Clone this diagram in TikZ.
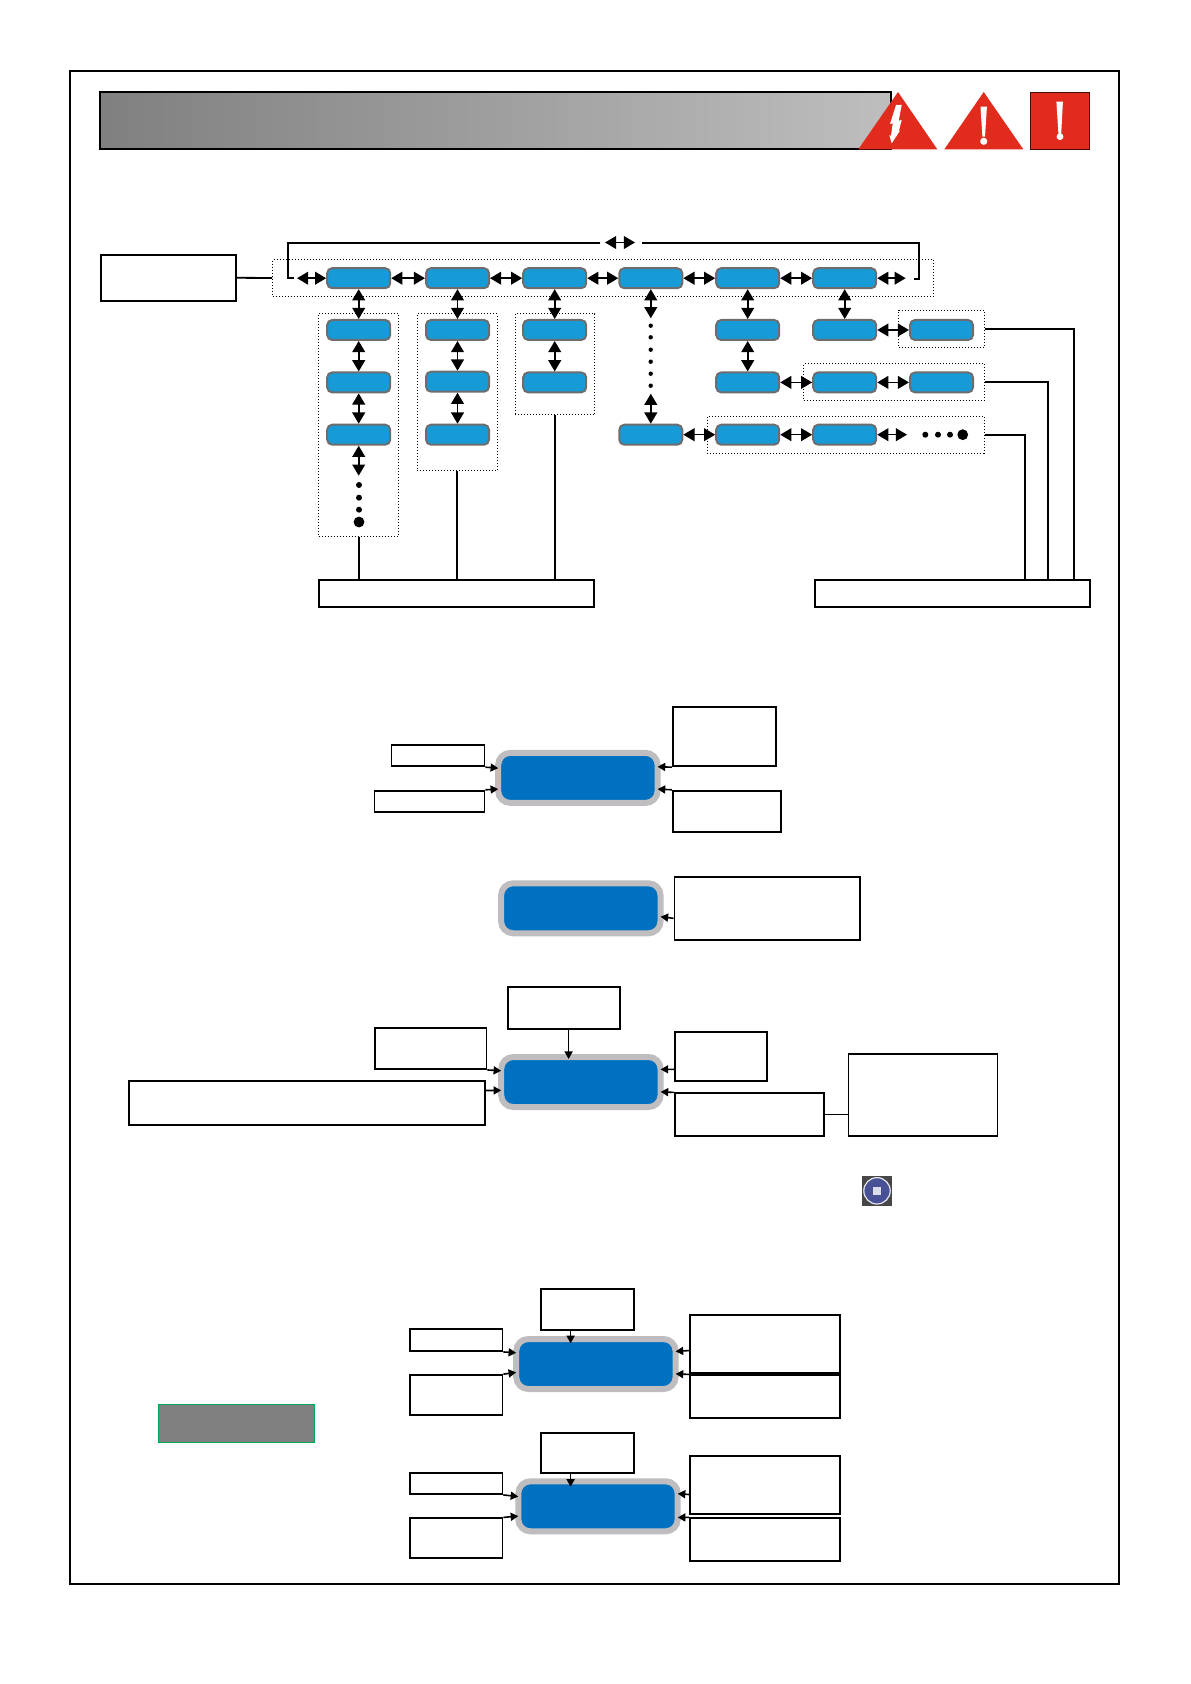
\documentclass[tikz,border=0pt]{standalone}
\usepackage{xcolor}
\definecolor{mlblue}{RGB}{23,155,215}
\definecolor{mldeep}{RGB}{0,112,192}
\definecolor{mlrim}{RGB}{191,189,191}
\definecolor{mlfade}{RGB}{190,190,190}
\definecolor{mlslate}{RGB}{109,109,111}
\definecolor{mlred}{RGB}{225,43,28}
\definecolor{mlgreen}{RGB}{0,166,81}
\definecolor{mlnavy}{RGB}{72,80,150}
\usetikzlibrary{arrows.meta,positioning,calc}
\begin{document}
\begin{tikzpicture}[
    x=0.5pt, y=-0.5pt,
    sz/.style 2 args={minimum width=#1*0.5pt, minimum height=#2*0.5pt},
    lbl/.style={rectangle, draw=black, line width=0.9pt, inner sep=0pt},
    cell/.style={rectangle, rounded corners=2.5pt, draw=mlslate, line width=1pt, fill=mlblue,
                 inner sep=0pt, minimum width=31.5pt, minimum height=10pt},
    scr/.style={rectangle, rounded corners=6pt, draw=mlrim, line width=3pt, fill=mldeep,
                inner sep=0pt, outer sep=0pt, minimum width=79.7pt, minimum height=25pt},
    grp/.style={rectangle, draw=black, densely dotted, line width=0.5pt, inner sep=0pt},
    dbl/.style={{Triangle[length=5.6pt,width=6.4pt]}-{Triangle[length=5.6pt,width=6.4pt]}, line width=0.8pt},
    sarr/.style={-{Triangle[length=3.8pt,width=4pt]}, line width=0.8pt},
    wire/.style={line width=0.9pt},
    dt/.style={circle, fill=black, inner sep=0pt, minimum size=3pt},
    bigdt/.style={circle, fill=black, inner sep=0pt, minimum size=5.4pt}
  ]
    \useasboundingbox (0,0) rectangle (1190,1684);
    \draw[line width=1pt] (70.3,71) rectangle (1118.7,1584.3);

    % Title bar and warning signs
    \node[rectangle, draw=black, line width=0.9pt, left color=gray, right color=mlfade,
          inner sep=0pt, sz={791}{56.7}] (title) at (495.8,120.3) {};
    \fill[mlred] (898,92) -- (937.3,149.3) -- (858.3,149.3) -- cycle;
    \fill[white] (896,105) -- (901.7,105) -- (898.7,120.7) -- (901.7,120) -- (898.7,131.7) -- (900,130.7)
      -- (891.7,143.3) -- (889.3,135) -- (891,136) -- (892.7,123.3) -- (890,124) -- cycle;
    \fill[mlred] (983.7,92) -- (1023.3,149.3) -- (944.3,149.3) -- cycle;
    \fill[white] (980.5,106.7) -- (986.9,106.7) -- (985,136.7) -- (982.4,136.7) -- cycle;
    \fill[white] (983.7,141.3) circle (1.8pt);
    \filldraw[fill=mlred, draw=black!70!mlred, line width=0.5pt] (1030.3,92.3) rectangle (1089.7,149.3);
    \fill[white] (1056.4,101.7) -- (1062.9,101.7) -- (1061.2,134) -- (1058.4,134) -- cycle;
    \fill[white] (1060,136.7) circle (1.7pt);

    % Menu tree, top row
    \node[lbl, sz={134.4}{46.3}] (src) at (168.5,277.8) {};
    \node[grp, sz={660.6}{36.6}] (gm) at (603,278) {};
    \node[cell] (m1) at (358.7,278.2) {};
    \node[cell] (m2) at (457.5,278.2) {};
    \node[cell] (m3) at (554.7,278.2) {};
    \node[cell] (m4) at (650.8,278.2) {};
    \node[cell] (m5) at (747.7,278.2) {};
    \node[cell] (m6) at (844.7,278.2) {};
    \draw[wire] (src.east) -- (gm.west);
    \draw[dbl] (m1) -- (m2);
    \draw[dbl] (m2) -- (m3);
    \draw[dbl] (m3) -- (m4);
    \draw[dbl] (m4) -- (m5);
    \draw[dbl] (m5) -- (m6);

    % Wrap-around bracket
    \coordinate (hl) at (297,278.2);
    \coordinate (hr) at (905.7,278.2);
    \coordinate (tl) at (600,243.3);
    \coordinate (tr) at (641.7,243.3);
    \coordinate (ta) at (605,242.5);
    \coordinate (tb) at (635,242.5);
    \draw[dbl] (m1.west) -- (hl);
    \draw[dbl] (m6.east) -- (hr);
    \draw[dbl] (ta) -- (tb);
    \draw[wire] (tl) -- (288.3,243.3) -- (288.3,278) -- (294,278);
    \draw[wire] (tr) -- (919.3,243.3) -- (919.3,279) -- (913.7,279);

    % Columns one to three
    \node[grp, sz={80}{222.3}] (g1) at (358.7,424.9) {};
    \node[grp, sz={80}{157}] (g2) at (457.3,392.2) {};
    \node[grp, sz={79.6}{101.3}] (g3) at (555,364.3) {};
    \node[cell] (a1) at (358.7,330) {};
    \node[cell] (a2) at (358.7,382.4) {};
    \node[cell] (a3) at (358.7,434.7) {};
    \node[cell] (b1) at (457.5,330) {};
    \node[cell] (b2) at (457.5,381.7) {};
    \node[cell] (b3) at (457.5,434.7) {};
    \node[cell] (c1) at (554.7,330) {};
    \node[cell] (c2) at (554.7,382.4) {};
    \draw[dbl] (m1) -- (a1);
    \draw[dbl] (a1) -- (a2);
    \draw[dbl] (a2) -- (a3);
    \draw[dbl] (m2) -- (b1);
    \draw[dbl] (b1) -- (b2);
    \draw[dbl] (b2) -- (b3);
    \draw[dbl] (m3) -- (c1);
    \draw[dbl] (c1) -- (c2);
    \coordinate (qa) at (358.7,475.7);
    \draw[dbl] (a3.south) -- (qa);
    \node[dt] (da) at (359,485) {};
    \node[dt] (db) at (359,497.7) {};
    \node[dt] (dc) at (359,509.7) {};
    \node[bigdt] (dd) at (359,522) {};

    % Column four
    \node[cell] (d1) at (650.8,434.7) {};
    \coordinate (qb) at (650.8,318.3);
    \coordinate (qc) at (650.8,393.7);
    \draw[dbl] (m4.south) -- (qb);
    \draw[dbl] (qc) -- (d1.north);
    \foreach \yy/\nn in {325.7/1,337.3/2,349.7/3,361.7/4,373.7/5,385.7/6}
      \node[circle, fill=black, inner sep=0pt, minimum size=2.2pt] (dv\nn) at (650.7,\yy) {};

    % Right branches
    \node[grp, sz={85.6}{36.7}] (gr1) at (941.5,328.7) {};
    \node[grp, sz={180.6}{36.6}] (gr2) at (894,382) {};
    \node[grp, sz={277}{36.7}] (gr3) at (845.8,434.7) {};
    \node[cell] (e1) at (747.7,330) {};
    \node[cell] (e2) at (747.7,382.4) {};
    \node[cell] (f1) at (844.7,330) {};
    \node[cell] (f2) at (844.7,382.4) {};
    \node[cell] (f3) at (941.5,330) {};
    \node[cell] (f4) at (941.5,382.4) {};
    \node[cell] (g5) at (747.7,434.7) {};
    \node[cell] (g6) at (844.7,434.7) {};
    \draw[dbl] (m5) -- (e1);
    \draw[dbl] (e1) -- (e2);
    \draw[dbl] (m6) -- (f1);
    \draw[dbl] (f1) -- (f3);
    \draw[dbl] (e2) -- (f2);
    \draw[dbl] (f2) -- (f4);
    \draw[dbl] (d1) -- (g5);
    \draw[dbl] (g5) -- (g6);
    \coordinate (hg) at (907,434.7);
    \draw[dbl] (g6.east) -- (hg);
    \node[dt] (de) at (925.3,434.7) {};
    \node[dt] (df) at (938,434.7) {};
    \node[dt] (dg) at (950,434.7) {};
    \node[bigdt] (dh) at (962.7,434.7) {};

    % Collecting boxes below the tree
    \node[lbl, sz={275.6}{26.7}] (bl) at (456.5,593.7) {};
    \node[lbl, sz={275.6}{26.7}] (br) at (952.5,593.7) {};
    \draw[wire] (g1.south) -- (g1.south |- bl.north);
    \draw[wire] (g2.south) -- (g2.south |- bl.north);
    \draw[wire] (g3.south) -- (g3.south |- bl.north);
    \coordinate (ra) at (1074,580.3);
    \coordinate (rb) at (1048.3,580.3);
    \coordinate (rc) at (1025,580.3);
    \draw[wire] (gr1.east) -| (ra);
    \draw[wire] (gr2.east) -| (rb);
    \draw[wire] (gr3.east) -| (rc);

    % Screen one
    \node[scr] (s1) at (577.9,777.9) {};
    \node[lbl, sz={93}{21.6}] (s1a) at (438,755.5) {};
    \node[lbl, sz={110}{21.6}] (s1b) at (429.5,801.5) {};
    \node[lbl, sz={103.3}{59}] (s1c) at (724.4,736.8) {};
    \node[lbl, sz={108.3}{41.6}] (s1d) at (727,811.5) {};
    \draw[sarr] (s1a.south east) -- (s1.173);
    \draw[sarr] (s1b.north east) -- (s1.188);
    \draw[sarr] (s1c.south west) -- (s1.8);
    \draw[sarr] (s1d.north west) -- (s1.352);

    % Screen two
    \node[scr] (s2) at (580.8,908.3) {};
    \node[lbl, sz={185.7}{63}] (s2a) at (767.4,908.5) {};
    \draw[sarr] (s2a.186) -- (s2.354);

    % Screen three
    \node[scr] (s3) at (580.9,1082) {};
    \node[lbl, sz={112.2}{41.4}] (s3t) at (564.2,1008) {};
    \node[lbl, sz={111.6}{40.7}] (s3a) at (430.6,1048.7) {};
    \node[lbl, sz={355.8}{44.6}] (s3b) at (306.7,1103) {};
    \node[lbl, sz={92.2}{48.7}] (s3c) at (720.8,1056.7) {};
    \node[lbl, sz={149.7}{42.4}] (s3d) at (749.5,1114.5) {};
    \node[lbl, sz={149.1}{82.3}] (s3e) at (923,1094.9) {};
    \coordinate (p3) at (568.6,1059);
    \draw[sarr] (p3 |- s3t.south) -- (p3);
    \draw[sarr] (s3a.south east) -- (s3.172);
    \draw[sarr] (s3b.4) -- (s3.186);
    \draw[sarr] (s3c.195) -- (s3.9);
    \draw[sarr] (s3d.north west) -- (s3.353);
    \draw[wire] (s3d.east) -- (s3d.east -| s3e.west);

    % Stop icon
    \fill[black!35!mlslate] (862.4,1176) rectangle (891.7,1205.7);
    \filldraw[fill=mlnavy, draw=white!85!mlnavy, line width=0.6pt] (877,1190.8) circle (6.6pt);
    \fill[white!80!mlnavy] (873,1186.8) rectangle (881,1194.8);

    % Grey key
    \node[rectangle, draw=mlgreen, fill=gray, line width=0.6pt, sz={156.2}{38}] (key) at (236.5,1423.7) {};

    % Screen four
    \node[scr] (s4) at (595.9,1364) {};
    \node[lbl, sz={92.8}{41}] (s4t) at (587.6,1309.8) {};
    \node[lbl, sz={92.8}{21.7}] (s4a) at (456,1340.2) {};
    \node[lbl, sz={92.8}{40.3}] (s4b) at (456,1395.2) {};
    \node[lbl, sz={149.8}{58.3}] (s4c) at (765,1343.9) {};
    \node[lbl, sz={149.8}{42.7}] (s4d) at (765,1396.7) {};
    \coordinate (p4) at (570.6,1343.3);
    \draw[sarr] (p4 |- s4t.south) -- (p4);
    \draw[sarr] (s4a.south east) -- (s4.172);
    \draw[sarr] (s4b.north east) -- (s4.186);
    \draw[sarr] (s4c.185) -- (s4.9);
    \draw[sarr] (s4d.north west) -- (s4.353);

    % Screen five
    \node[scr] (s5) at (598,1506.3) {};
    \node[lbl, sz={92.8}{40.6}] (s5t) at (587.6,1453) {};
    \node[lbl, sz={92.8}{21.3}] (s5a) at (456,1483.4) {};
    \node[lbl, sz={92.8}{40}] (s5b) at (456,1538.3) {};
    \node[lbl, sz={149.8}{57.7}] (s5c) at (765,1485.2) {};
    \node[lbl, sz={149.8}{43}] (s5d) at (765,1539.8) {};
    \coordinate (p5) at (570.6,1486.7);
    \draw[sarr] (p5 |- s5t.south) -- (p5);
    \draw[sarr] (s5a.south east) -- (s5.173);
    \draw[sarr] (s5b.north east) -- (s5.187);
    \draw[sarr] (s5c.187) -- (s5.9);
    \draw[sarr] (s5d.north west) -- (s5.352);
\end{tikzpicture}
\end{document}
